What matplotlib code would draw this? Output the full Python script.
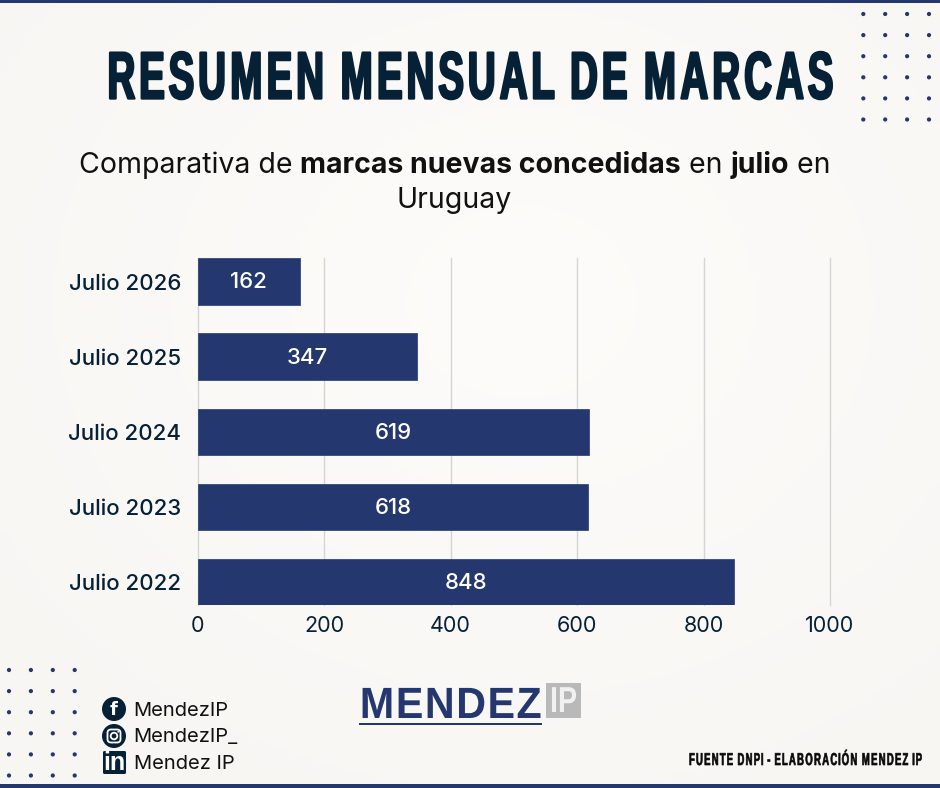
import numpy as np
import matplotlib
matplotlib.use('Agg')
import matplotlib.pyplot as plt
from matplotlib.patches import Circle, Rectangle, FancyBboxPatch
from matplotlib.path import Path
from matplotlib.patheffects import AbstractPathEffect
from matplotlib.text import Text
from matplotlib.transforms import Affine2D, Bbox

categories = ['Julio 2026', 'Julio 2025', 'Julio 2024', 'Julio 2023', 'Julio 2022']
values = [162, 347, 619, 618, 848]
xticks = [0, 200, 400, 600, 800, 1000]
title = 'RESUMEN MENSUAL DE MARCAS'
subtitle_parts = [('Comparativa de ', 'normal'), ('marcas nuevas concedidas', 'bold'),
                  (' en ', 'normal'), ('julio', 'bold'), (' en', 'normal')]
socials = ['MendezIP', 'MendezIP_', 'Mendez IP']
source = 'FUENTE DNPI - ELABORACIÓN MENDEZ IP'

NAVY = '#24386F'
DARK = '#062136'
W, H = 940, 788
FONT = 'Inter'
NARROW = 'Liberation Sans'

fig = plt.figure(figsize=(W / 100, H / 100), dpi=100)

bg = fig.add_axes([0, 0, 1, 1], zorder=0)
bg.axis('off')
yy, xx = np.mgrid[0:H:4, 0:W:4]
r = np.hypot((xx - 520) / W, (yy - 300) / H)
shade = np.clip(r / 0.75, 0, 1)[..., None]
img = (1 - shade) * np.array([253, 252, 250]) + shade * np.array([248, 246, 243])
bg.imshow(img.astype(np.uint8), extent=[0, W, H, 0], aspect='auto', interpolation='bilinear')
bg.set_xlim(0, W); bg.set_ylim(H, 0)
bg.add_patch(Rectangle((0, 0), W, 3, color=NAVY, lw=0))
bg.add_patch(Rectangle((0, 784), W, 4, color=NAVY, lw=0))

for x0, y0 in [(863.3, 14), (9, 670)]:
    for i in range(4):
        for j in range(6):
            bg.add_patch(Circle((x0 + i * 21.9, y0 + j * 21.1), 2.1, color=NAVY, lw=0))

ax = fig.add_axes([197.7 / W, 1 - 605 / H, (830 - 197.7) / W, (605 - 258) / H], zorder=2)
ax.patch.set_alpha(0)
y = np.arange(len(categories))
bars = ax.barh(y, values, height=0.618, color=NAVY, edgecolor=NAVY, linewidth=0.5, zorder=3)
for b in bars:
    b.set_joinstyle('round')
ax.set_xlim(0, 1000)
ax.set_ylim(4.307, -0.313)
ax.set_xticks(xticks)
ax.set_yticks(y, categories)
ax.grid(axis='x', color='#D5D5D3', lw=1, zorder=1, clip_on=False)
ax.tick_params(length=0)
ax.tick_params(axis='x', pad=8, labelsize=15.5, labelcolor=DARK)
ax.tick_params(axis='y', pad=12, labelsize=16, labelcolor=DARK)
for lab in ax.get_xticklabels():
    lab.set_family(FONT)
for lab in ax.get_yticklabels():
    lab.set_family(FONT); lab.set_fontweight('medium')
for s in ax.spines.values():
    s.set_visible(False)
for yi, v in zip(y, values):
    ax.annotate(str(v), (v / 2, yi), xytext=(0, -0.7), textcoords='offset points', ha='center',
                va='center', color='white', fontsize=16, family=FONT, fontweight='medium', zorder=4)

ov = fig.add_axes([0, 0, 1, 1], zorder=3)
ov.set_xlim(0, W); ov.set_ylim(H, 0); ov.axis('off')
r_ = fig.canvas.get_renderer()


def narrow_glyphs(path, g):
    """Narrow each glyph around its own centre, which widens the gaps between glyphs."""
    v, c = path.vertices.copy(), path.codes
    starts = list(np.flatnonzero(c == Path.MOVETO)) + [len(v)]
    spans = [(v[a:b, 0].min(), v[a:b, 0].max(), a, b) for a, b in zip(starts[:-1], starts[1:]) if b > a]
    spans.sort()
    groups = []
    for lo, hi, a, b in spans:
        if groups and lo < groups[-1][1]:
            groups[-1][1] = max(groups[-1][1], hi)
            groups[-1][2].append((a, b))
        else:
            groups.append([lo, hi, [(a, b)]])
    for lo, hi, parts in groups:
        mid = (lo + hi) / 2
        for a, b in parts:
            v[a:b, 0] = mid + (v[a:b, 0] - mid) * g
    return Path(v, c)


class Squeeze(AbstractPathEffect):
    """Narrows the glyph outlines of a text horizontally around x0 and thickens them."""
    def __init__(self, x0, k, stroke, color, g):
        super().__init__()
        self.x0, self.k, self.stroke, self.color, self.g = x0, k, stroke, color, g

    def draw_path(self, renderer, gc, tpath, affine, rgbFace=None):
        a = affine + Affine2D().translate(-self.x0, 0).scale(self.k, 1).translate(self.x0, 0)
        g = renderer.new_gc()
        g.copy_properties(gc)
        g.set_linewidth(self.stroke)
        g.set_foreground(self.color)
        renderer.draw_path(g, narrow_glyphs(tpath, self.g), a, rgbFace)
        g.restore()


class NarrowText(Text):
    k = 1.0
    px0 = 0.0

    def get_window_extent(self, renderer=None, dpi=None):
        bb = super().get_window_extent(renderer, dpi)
        return Bbox.from_extents(self.px0 + (bb.x0 - self.px0) * self.k, bb.y0,
                                 self.px0 + (bb.x1 - self.px0) * self.k, bb.y1)


def narrow(x_left, x_right, baseline, s, size, color, stroke, g=1.0):
    cx = (x_left + x_right) / 2
    t = NarrowText(cx, baseline, s, family=NARROW, fontweight='bold', fontsize=size, color=color,
                   ha='center', va='baseline', transform=ov.transData)
    ov.add_artist(t)
    px = ov.transData.transform((cx, baseline))[0]
    t.px0 = px
    natural = t.get_window_extent(r_).width
    t.k = (x_right - x_left) / natural
    t.set_path_effects([Squeeze(px, t.k, stroke, color, g)])
    return t


narrow(105.5, 835.5, 98.5, title, 48, DARK, 1.7, 0.87)
narrow(688.5, 922.5, 765, source, 12.4, '#0A0A0A', 0.45, 0.84)

arts = []
for s, w in subtitle_parts:
    arts.append(ov.text(0, 173, s.replace(' ', '\u00a0'), family=FONT, fontweight=w, fontsize=20.5,
                        color='#111111', va='baseline', ha='left'))
widths = [a.get_window_extent(r_).width for a in arts]
x = 454.5 - sum(widths) / 2
for a, wd in zip(arts, widths):
    a.set_x(x)
    x += wd
ov.text(454.5, 208, 'Uruguay', family=FONT, fontsize=20.5, color='#111111', va='baseline', ha='center')

ys = [716, 742.5, 769]
for yi, s in zip(ys, socials):
    ov.text(133.5, yi, s, family=FONT, fontsize=14.5, color='#111111', va='baseline', ha='left')
ov.add_patch(Circle((114, 709), 12, color=DARK, lw=0))
ov.text(114, 710, 'f', family='DejaVu Sans', fontweight='bold', fontsize=13, color='white', ha='center', va='center')
ov.add_patch(Circle((114, 736), 12, color=DARK, lw=0))
ov.add_patch(FancyBboxPatch((107.5, 729.5), 13, 13, boxstyle='round,pad=0,rounding_size=3.5',
                            fc='none', ec='white', lw=1.3))
ov.add_patch(Circle((114, 736), 3.3, fc='none', ec='white', lw=1.3))
ov.add_patch(Circle((118.2, 731.8), 0.9, color='white', lw=0))
ov.add_patch(FancyBboxPatch((103, 751), 23, 23, boxstyle='round,pad=0,rounding_size=1.5', fc=DARK, ec='none'))
ov.text(114.5, 763, 'in', family='Liberation Sans', fontweight='bold', fontsize=18, color='white', ha='center', va='center')

narrow(359, 542, 718, 'MENDEZ', 31.5, NAVY, 0, 0.95)
ov.add_patch(Rectangle((359, 722.5), 182.5, 2, color=NAVY, lw=0))
ov.add_patch(Rectangle((546, 683), 35, 35, color='#B9B9B9', lw=0))
narrow(550, 577, 712, 'IP', 26, '#F1F1F1', 0)

fig.savefig('out.png', dpi=100)
